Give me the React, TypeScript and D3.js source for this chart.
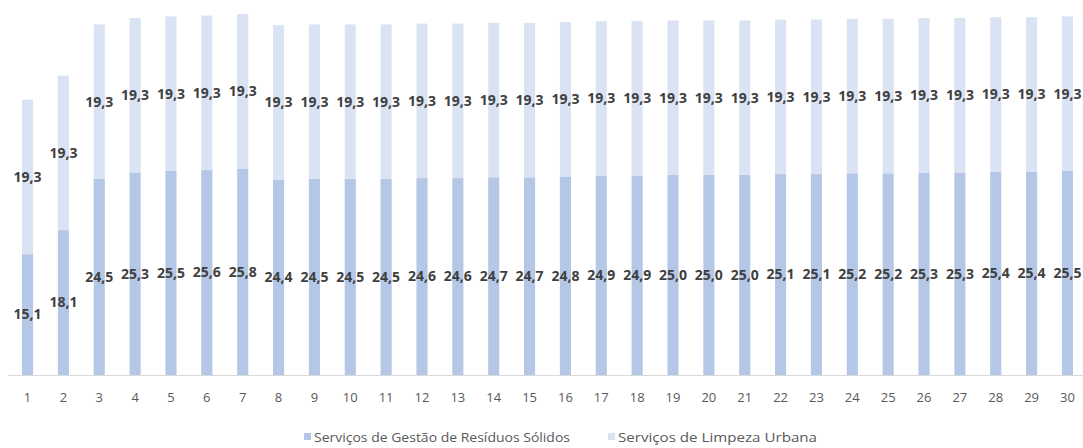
import React from "react";
import * as d3 from "d3";

const categories: string[] = Array.from({ length: 30 }, (_, i) => String(i + 1));
const gestao: number[] = [15.1, 18.1, 24.5, 25.3, 25.5, 25.6, 25.8, 24.4, 24.5, 24.5, 24.5, 24.6, 24.6, 24.7, 24.7, 24.8, 24.9, 24.9, 25.0, 25.0, 25.0, 25.1, 25.1, 25.2, 25.2, 25.3, 25.3, 25.4, 25.4, 25.5];
const limpeza: number[] = Array.from({ length: 30 }, () => 19.3);
const seriesNames: string[] = ["Serviços de Gestão de Resíduos Sólidos", "Serviços de Limpeza Urbana"];
const colors: string[] = ["#b4c7e7", "#dae3f3"];

const W = 1083;
const H = 448;

export default function App() {
  const x = d3.scaleBand<string>().domain(categories).range([9.6, 1085.4]).paddingInner(0.69).paddingOuter(0.345);
  const y = d3.scaleLinear().domain([0, 45.1]).range([375, 14]);
  const data = categories.map((c, i) => ({ c, a: gestao[i], b: limpeza[i] }));
  const stack = d3.stack<any>().keys(["a", "b"])(data as any);
  const fmt = (v: number) => v.toFixed(1).replace(".", ",");
  const font = "'Open Sans', 'Liberation Sans', sans-serif";
  return (
    <svg width={W} height={H} style={{ position: "absolute", left: 0, top: 0, background: "#fff" }}>
      <line x1={8} x2={1083} y1={375.5} y2={375.5} stroke="#d9d9d9" strokeWidth={1} />
      {stack.map((s, si) => (
        <g key={si}>
          {s.map((d, i) => (
            <rect key={i} x={x(categories[i])} width={x.bandwidth()} y={y(d[1])} height={y(d[0]) - y(d[1])} fill={colors[si]} />
          ))}
        </g>
      ))}
      {stack.map((s, si) => (
        <g key={"l" + si}>
          {s.map((d, i) => (
            <text key={i} x={(x(categories[i]) as number) + x.bandwidth() / 2} y={(y(d[0]) + y(d[1])) / 2} dy="0.35em" textAnchor="middle" fontFamily={font} fontWeight="bold" fontSize={14} fill="#404040">
              {fmt(d[1] - d[0])}
            </text>
          ))}
        </g>
      ))}
      {categories.map((c) => (
        <text key={c} x={(x(c) as number) + x.bandwidth() / 2} y={397} dy="0.35em" textAnchor="middle" fontFamily={font} fontSize={13} fill="#595959">
          {c}
        </text>
      ))}
      <g>
        <rect x={304} y={433} width={7} height={7} fill={colors[0]} />
        <text x={314} y={437} dy="0.35em" fontFamily={font} fontSize={13} fill="#595959" textLength={256} lengthAdjust="spacingAndGlyphs">{seriesNames[0]}</text>
        <rect x={608} y={433} width={7} height={7} fill={colors[1]} />
        <text x={618} y={437} dy="0.35em" fontFamily={font} fontSize={13} fill="#595959" textLength={199} lengthAdjust="spacingAndGlyphs">{seriesNames[1]}</text>
      </g>
    </svg>
  );
}
